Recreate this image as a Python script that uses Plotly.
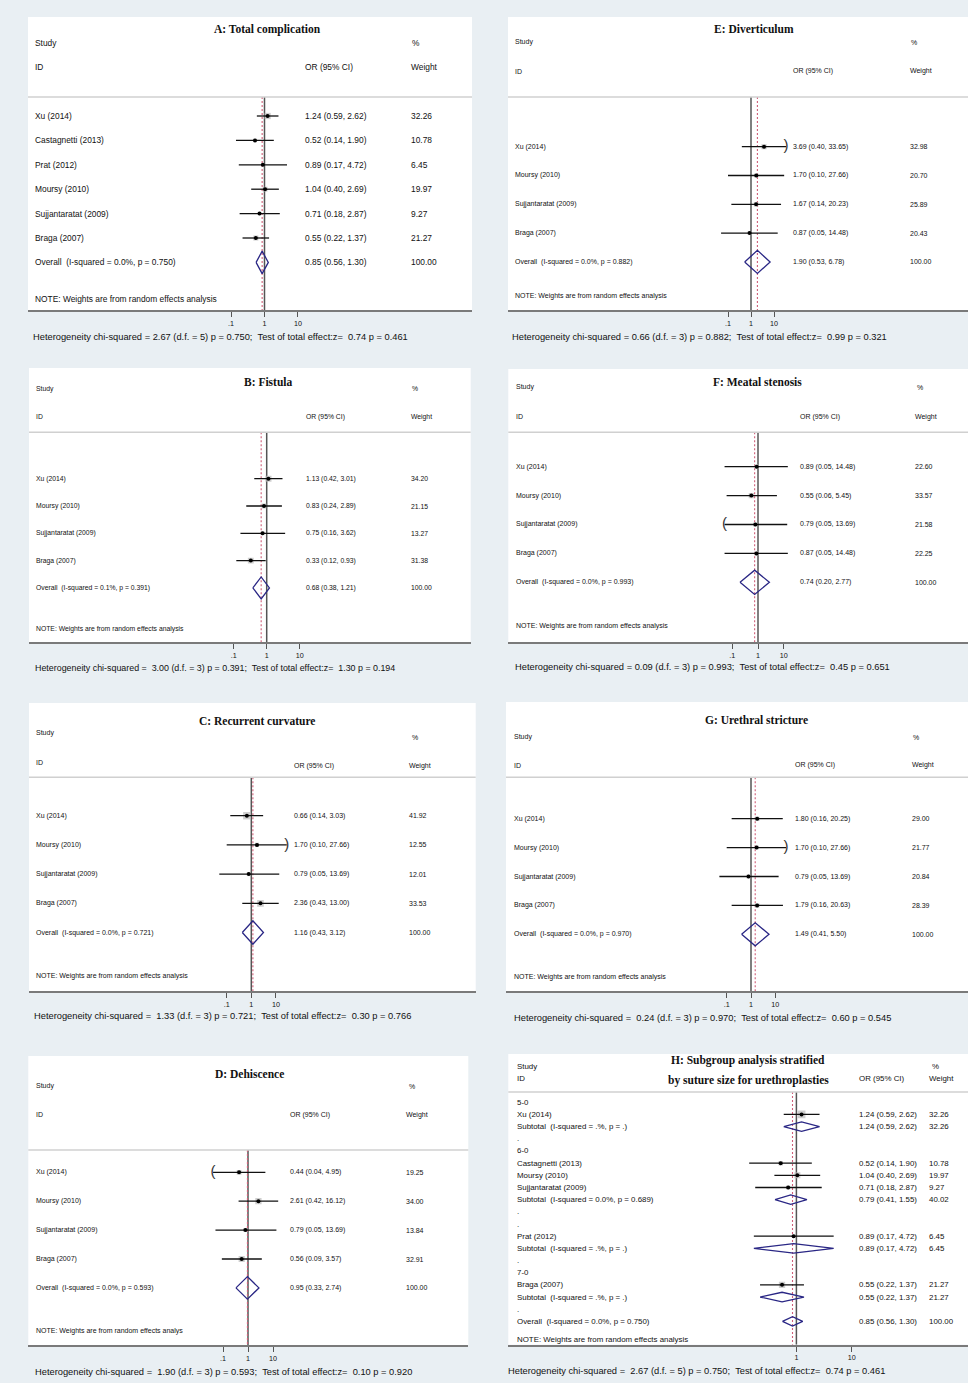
import math
import plotly.graph_objects as go

W, H = 968, 1383

# ---------------- data ----------------
NOTE = "NOTE: Weights are from random effects analysis"
NOTE_D = "NOTE: Weights are from random effects analys"

A_study = ["Xu (2014)", "Castagnetti (2013)", "Prat (2012)", "Moursy (2010)",
           "Sujjantaratat (2009)", "Braga (2007)"]
A_or = [1.24, 0.52, 0.89, 1.04, 0.71, 0.55]
A_lo = [0.59, 0.14, 0.17, 0.40, 0.18, 0.22]
A_hi = [2.62, 1.90, 4.72, 2.69, 2.87, 1.37]
A_w = [32.26, 10.78, 6.45, 19.97, 9.27, 21.27]
A_overall = [0.85, 0.56, 1.30, 100.00]
A_isq = "Overall  (I-squared = 0.0%, p = 0.750)"
A_het = "Heterogeneity chi-squared = 2.67 (d.f. = 5) p = 0.750;  Test of total effect:z=  0.74 p = 0.461"

STUDY4 = ["Xu (2014)", "Moursy (2010)", "Sujjantaratat (2009)", "Braga (2007)"]

B_or = [1.13, 0.83, 0.75, 0.33]
B_lo = [0.42, 0.24, 0.16, 0.12]
B_hi = [3.01, 2.89, 3.62, 0.93]
B_w = [34.20, 21.15, 13.27, 31.38]
B_overall = [0.68, 0.38, 1.21, 100.00]
B_isq = "Overall  (I-squared = 0.1%, p = 0.391)"
B_het = "Heterogeneity chi-squared =  3.00 (d.f. = 3) p = 0.391;  Test of total effect:z=  1.30 p = 0.194"

C_or = [0.66, 1.70, 0.79, 2.36]
C_lo = [0.14, 0.10, 0.05, 0.43]
C_hi = [3.03, 27.66, 13.69, 13.00]
C_w = [41.92, 12.55, 12.01, 33.53]
C_overall = [1.16, 0.43, 3.12, 100.00]
C_isq = "Overall  (I-squared = 0.0%, p = 0.721)"
C_het = "Heterogeneity chi-squared =  1.33 (d.f. = 3) p = 0.721;  Test of total effect:z=  0.30 p = 0.766"

D_or = [0.44, 2.61, 0.79, 0.56]
D_lo = [0.04, 0.42, 0.05, 0.09]
D_hi = [4.95, 16.12, 13.69, 3.57]
D_w = [19.25, 34.00, 13.84, 32.91]
D_overall = [0.95, 0.33, 2.74, 100.00]
D_isq = "Overall  (I-squared = 0.0%, p = 0.593)"
D_het = "Heterogeneity chi-squared =  1.90 (d.f. = 3) p = 0.593;  Test of total effect:z=  0.10 p = 0.920"

E_or = [3.69, 1.70, 1.67, 0.87]
E_lo = [0.40, 0.10, 0.14, 0.05]
E_hi = [33.65, 27.66, 20.23, 14.48]
E_w = [32.98, 20.70, 25.89, 20.43]
E_overall = [1.90, 0.53, 6.78, 100.00]
E_isq = "Overall  (I-squared = 0.0%, p = 0.882)"
E_het = "Heterogeneity chi-squared = 0.66 (d.f. = 3) p = 0.882;  Test of total effect:z=  0.99 p = 0.321"

F_or = [0.89, 0.55, 0.79, 0.87]
F_lo = [0.05, 0.06, 0.05, 0.05]
F_hi = [14.48, 5.45, 13.69, 14.48]
F_w = [22.60, 33.57, 21.58, 22.25]
F_overall = [0.74, 0.20, 2.77, 100.00]
F_isq = "Overall  (I-squared = 0.0%, p = 0.993)"
F_het = "Heterogeneity chi-squared = 0.09 (d.f. = 3) p = 0.993;  Test of total effect:z=  0.45 p = 0.651"

G_or = [1.80, 1.70, 0.79, 1.79]
G_lo = [0.16, 0.10, 0.05, 0.16]
G_hi = [20.25, 27.66, 13.69, 20.63]
G_w = [29.00, 21.77, 20.84, 28.39]
G_overall = [1.49, 0.41, 5.50, 100.00]
G_isq = "Overall  (I-squared = 0.0%, p = 0.970)"
G_het = "Heterogeneity chi-squared =  0.24 (d.f. = 3) p = 0.970;  Test of total effect:z=  0.60 p = 0.545"

H_label = ["5-0", "Xu (2014)", "Subtotal  (I-squared = .%, p = .)", ".",
           "6-0", "Castagnetti (2013)", "Moursy (2010)", "Sujjantaratat (2009)",
           "Subtotal  (I-squared = 0.0%, p = 0.689)", ".", ".",
           "Prat (2012)", "Subtotal  (I-squared = .%, p = .)", ".",
           "7-0", "Braga (2007)", "Subtotal  (I-squared = .%, p = .)", ".",
           "Overall  (I-squared = 0.0%, p = 0.750)"]
H_kind = ["head", "study", "sub", "dot", "head", "study", "study", "study", "sub",
          "dot", "dot", "study", "sub", "dot", "head", "study", "sub", "dot", "overall"]
H_or = [None, 1.24, 1.24, None, None, 0.52, 1.04, 0.71, 0.79, None, None,
        0.89, 0.89, None, None, 0.55, 0.55, None, 0.85]
H_lo = [None, 0.59, 0.59, None, None, 0.14, 0.40, 0.18, 0.41, None, None,
        0.17, 0.17, None, None, 0.22, 0.22, None, 0.56]
H_hi = [None, 2.62, 2.62, None, None, 1.90, 2.69, 2.87, 1.55, None, None,
        4.72, 4.72, None, None, 1.37, 1.37, None, 1.30]
H_w = [None, 32.26, 32.26, None, None, 10.78, 19.97, 9.27, 40.02, None, None,
       6.45, 6.45, None, None, 21.27, 21.27, None, 100.00]
H_het = "Heterogeneity chi-squared =  2.67 (d.f. = 5) p = 0.750;  Test of total effect:z=  0.74 p = 0.461"

TICK_VALS = [0.1, 1, 10]
TICK_TEXT = [".1", "1", "10"]

# ---------------- styling ----------------
BG = "#e9eff3"
FONT = "Liberation Sans, Arial, sans-serif"
SERIF = "Liberation Serif, Times New Roman, serif"
TXT = "#111111"
NAVY = "#2a2785"
GREYBOX = "#bababa"

fig = go.Figure()
annotations = []
shapes = []
lay = {}


def sp(t):
    return t.replace("  ", " \u00a0")


def ann(text, x, y, size, yref="paper", anchor="left", family=FONT, color=TXT):
    annotations.append(dict(text=sp(text), x=x, y=y, xref="paper", yref=yref,
                            xanchor=anchor, yanchor="middle", showarrow=False,
                            font=dict(family=family, size=size, color=color)))


def std_rows(study, orv, lo, hi, w, overall, isq):
    labels = list(study) + [isq]
    kinds = ["study"] * len(study) + ["overall"]
    return (labels, kinds, list(orv) + [overall[0]], list(lo) + [overall[1]],
            list(hi) + [overall[2]], list(w) + [overall[3]])


def panel(idx, L, labels, kinds, orv, lo, hi, w):
    sfx = "" if idx == 1 else str(idx)
    xr, yr = "x" + sfx, "y" + sfx
    x0, y0, x1, y1 = L["box"]
    one, ppd, row0, step = L["one"], L["ppd"], L["row0"], L["step"]
    r_top = (y0 - row0) / step
    r_bot = (y1 - row0) / step
    r_sep = (L["sep"] - row0) / step
    tv = L.get("tickvals", TICK_VALS)
    tt = L.get("ticktext", TICK_TEXT)
    lay["xaxis" + sfx] = dict(
        type="log", domain=[x0 / W, x1 / W],
        range=[-(one - x0) / ppd, (x1 - one) / ppd],
        anchor=yr, showgrid=False, zeroline=False, showline=True,
        linecolor="#7a7a7a", linewidth=2, ticks="outside", ticklen=5,
        tickwidth=1, tickcolor="#555", tickvals=tv, ticktext=tt,
        tickfont=dict(family=FONT, size=L.get("tfs", 7.2), color=TXT),
        fixedrange=True)
    lay["yaxis" + sfx] = dict(domain=[1 - y1 / H, 1 - y0 / H], range=[r_bot, r_top],
                              visible=False, anchor=xr, fixedrange=True)

    rows = list(range(len(labels)))
    ov_i = kinds.index("overall")
    common = dict(xaxis=xr, yaxis=yr, showlegend=False, hoverinfo="skip")

    # header separator
    shapes.append(dict(type="line", xref=xr + " domain", yref=yr, x0=0, x1=1,
                       y0=r_sep, y1=r_sep, line=dict(color="#d0d0d0", width=1.6)))
    # null line and overall effect line
    fig.add_trace(go.Scatter(x=[1, 1], y=[r_sep, r_bot], mode="lines",
                             line=dict(color="#555555", width=1.5), **common))
    fig.add_trace(go.Scatter(x=[orv[ov_i], orv[ov_i]], y=[r_sep, r_bot], mode="lines",
                             line=dict(color="#cf5f78", width=1.1, dash="2px,2px"), **common))

    st = [i for i in rows if kinds[i] == "study"]
    # weight boxes
    fig.add_trace(go.Scatter(x=[orv[i] for i in st], y=st, mode="markers",
                             marker=dict(symbol="square", color=GREYBOX,
                                         size=[L["k"] * math.sqrt(w[i]) for i in st],
                                         line=dict(width=0)), **common))
    # CI lines
    cx, cy = [], []
    for i in st:
        cx += [lo[i], hi[i], None]
        cy += [i, i, None]
    fig.add_trace(go.Scatter(x=cx, y=cy, mode="lines",
                             line=dict(color="#111", width=1.3), **common))
    # point estimates
    fig.add_trace(go.Scatter(x=[orv[i] for i in st], y=st, mode="markers",
                             marker=dict(symbol="circle", color="#000", size=4), **common))
    # diamonds
    dh = L["dh"]
    dx, dy = [], []
    for i in rows:
        if kinds[i] in ("sub", "overall"):
            dx += [lo[i], orv[i], hi[i], orv[i], lo[i], None]
            dy += [i, i - dh, i, i + dh, i, None]
    fig.add_trace(go.Scatter(x=dx, y=dy, mode="lines",
                             line=dict(color=NAVY, width=1.3), **common))
    # clipped CI end markers
    for i, side in L.get("clip", []):
        fig.add_trace(go.Scatter(x=[hi[i] if side == "hi" else lo[i]], y=[i], mode="text",
                                 text=[")" if side == "hi" else "("],
                                 textposition="middle center",
                                 textfont=dict(family=FONT, size=15, color="#333"), **common))

    fs = L["fs"]
    # title
    for (tx, ty, ttxt) in L["title"]:
        ann("<b>" + ttxt + "</b>", tx / W, 1 - ty / H, 11.5, anchor="center", family=SERIF,
            color="#111")
    # headers
    ann("Study", L["study"][0] / W, 1 - L["study"][1] / H, fs)
    ann("ID", L["id"][0] / W, 1 - L["id"][1] / H, fs)
    ann("%", L["pct"][0] / W, 1 - L["pct"][1] / H, fs)
    ann("OR (95% CI)", L["orh"][0] / W, 1 - L["orh"][1] / H, fs)
    ann("Weight", L["wh"][0] / W, 1 - L["wh"][1] / H, fs)
    # rows
    for i in rows:
        ann(labels[i], L["xl"] / W, i, fs, yref=yr)
        if orv[i] is not None:
            ann(f"{orv[i]:.2f} ({lo[i]:.2f}, {hi[i]:.2f})", L["xo"] / W, i, fs, yref=yr)
            ann(f"{w[i]:.2f}", L["xw"] / W, i, fs, yref=yr)
    ann(L["note"], L["xl"] / W, (L["note_y"] - row0) / step, fs, yref=yr)
    ann(L["het"], L["het_xy"][0] / W, 1 - L["het_xy"][1] / H, L.get("hfs", 9.3))


specs = [
    ("A", dict(box=(28, 17, 472, 310), one=264.5, ppd=33.4, row0=116, step=24.4, sep=97,
               title=[(267, 29, "A: Total complication")], study=(33, 43), id=(33, 67),
               pct=(410, 43), orh=(303, 67), wh=(409, 67), xl=33, xo=303, xw=409,
               note=NOTE, note_y=299, het=A_het, het_xy=(31, 337), fs=8.4, k=1.1, dh=0.46),
     std_rows(A_study, A_or, A_lo, A_hi, A_w, A_overall, A_isq)),
    ("E", dict(box=(508, 17, 968, 310), one=751, ppd=23, row0=146.7, step=28.8, sep=97,
               title=[(754, 29.3, "E: Diverticulum")], study=(513, 42), id=(513, 71.3),
               pct=(909, 42), orh=(790.7, 71.3), wh=(908, 71.3), xl=513, xo=790.7, xw=908,
               note=NOTE, note_y=295.7, het=E_het, het_xy=(510, 336.7), fs=7, k=0.9, dh=0.4,
               clip=[(0, "hi")]),
     std_rows(STUDY4, E_or, E_lo, E_hi, E_w, E_overall, E_isq)),
    ("B", dict(box=(29, 368, 470.7, 642.3), one=266.7, ppd=33, row0=478.7, step=27.3, sep=432.3,
               title=[(268.3, 381.7, "B: Fistula")], study=(34, 389), id=(34, 416.7),
               pct=(410, 389), orh=(304.3, 416.7), wh=(409, 416.7), xl=34, xo=304.3, xw=409,
               note=NOTE, note_y=629.3, het=B_het, het_xy=(33.3, 668.3), fs=6.8, hfs=8.9,
               k=1.05, dh=0.4),
     std_rows(STUDY4, B_or, B_lo, B_hi, B_w, B_overall, B_isq)),
    ("F", dict(box=(508.3, 369, 968, 642.3), one=758, ppd=25.7, row0=466.7, step=28.9, sep=432.3,
               title=[(757.7, 381.7, "F: Meatal stenosis")], study=(514, 387.3), id=(514, 416.7),
               pct=(915, 387.3), orh=(797.7, 416.7), wh=(913.3, 416.7), xl=514, xo=797.7,
               xw=913.3, note=NOTE, note_y=626, het=F_het, het_xy=(513.3, 666.7), fs=7,
               k=0.9, dh=0.42, clip=[(2, "lo")]),
     std_rows(STUDY4, F_or, F_lo, F_hi, F_w, F_overall, F_isq)),
    ("C", dict(box=(29, 703, 475.7, 991), one=251.3, ppd=24.6, row0=815.7, step=29.2, sep=777.3,
               title=[(256.7, 720.7, "C: Recurrent curvature")], study=(34, 733.3), id=(34, 762),
               pct=(410, 737.3), orh=(291.7, 766.3), wh=(407.3, 766.3), xl=34, xo=291.7,
               xw=407.3, note=NOTE, note_y=976.3, het=C_het, het_xy=(31.7, 1015.7), fs=7,
               k=1.15, dh=0.4, clip=[(1, "hi")]),
     std_rows(STUDY4, C_or, C_lo, C_hi, C_w, C_overall, C_isq)),
    ("G", dict(box=(506, 702, 968, 991.3), one=751, ppd=24.3, row0=818.7, step=28.9, sep=777.3,
               title=[(756.7, 720.3, "G: Urethral stricture")], study=(512.3, 737),
               id=(512.3, 765), pct=(910.7, 737), orh=(793.3, 765), wh=(909.7, 765), xl=512.3,
               xo=793.3, xw=909.7, note=NOTE, note_y=977.3, het=G_het, het_xy=(511.7, 1018.3),
               fs=7, k=0.85, dh=0.4, clip=[(1, "hi")]),
     std_rows(STUDY4, G_or, G_lo, G_hi, G_w, G_overall, G_isq)),
    ("D", dict(box=(28.3, 1056, 468.3, 1345.3), one=248, ppd=25, row0=1172.3, step=28.9,
               sep=1150, title=[(250, 1074.3, "D: Dehiscence")], study=(34, 1086),
               id=(34, 1114.7), pct=(406.7, 1086), orh=(288.3, 1114.7), wh=(404, 1114.7),
               xl=34, xo=288.3, xw=404, note=NOTE_D, note_y=1331.3, het=D_het,
               het_xy=(33.3, 1372.3), fs=7, k=1.08, dh=0.39, clip=[(0, "lo")]),
     std_rows(STUDY4, D_or, D_lo, D_hi, D_w, D_overall, D_isq)),
    ("H", dict(box=(508.3, 1054, 968, 1344.7), one=796.4, ppd=55.3, row0=1102.3, step=12.17,
               sep=1092, title=[(748.3, 1060.7, "H: Subgroup analysis stratified"),
                                (748.3, 1080.7, "by suture size for urethroplasties")],
               study=(514.7, 1066), id=(514.7, 1078.3), pct=(930, 1066),
               orh=(856.7, 1078.3), wh=(926.7, 1078.3), xl=514.7, xo=856.7, xw=926.7,
               note=NOTE, note_y=1339.3, het=H_het, het_xy=(506, 1370.7), fs=7.9,
               k=1.36, dh=0.39, tickvals=[1, 10], ticktext=["1", "10"]),
     (H_label, H_kind, H_or, H_lo, H_hi, H_w)),
]

for n, (key, L, data) in enumerate(specs, start=1):
    panel(n, L, *data)

fig.update_layout(
    width=W, height=H, autosize=False,
    margin=dict(l=0, r=0, t=0, b=0, pad=0),
    paper_bgcolor=BG, plot_bgcolor="#ffffff",
    showlegend=False,
    annotations=annotations, shapes=shapes,
    **lay,
)

fig.write_html("out.html")
